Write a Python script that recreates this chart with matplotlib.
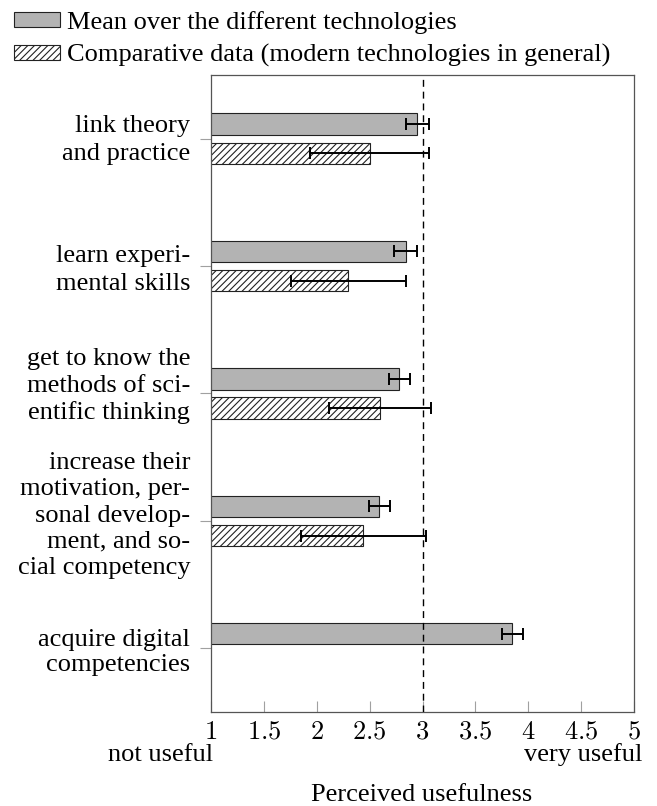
import numpy as np
import matplotlib
matplotlib.use('Agg')
import matplotlib.pyplot as plt
from matplotlib.patches import Patch
import matplotlib.transforms as mtransforms

# =====================================
# DATA
# =====================================

goals = [
    'link theory\nand practice',
    'learn experi-\nmental skills',
    'get to know the\nmethods of sci-\nentific thinking',
    'increase their\nmotivation, per-\nsonal develop-\nment, and so-\ncial competency',
    'acquire digital\ncompetencies',
]
mean_tech = [2.95, 2.84, 2.78, 2.59, 3.85]
mean_tech_err = [0.11, 0.11, 0.10, 0.10, 0.10]
comparative = [2.50, 2.30, 2.60, 2.44, np.nan]
comparative_err = [0.56, 0.54, 0.48, 0.59, np.nan]

x_ticks = [1, 1.5, 2, 2.5, 3, 3.5, 4, 4.5, 5]
x_tick_labels = ['1', '1.5', '2', '2.5', '3', '3.5', '4', '4.5', '5']

legend_labels = ['Mean over the different technologies',
                 'Comparative data (modern technologies in general)']

# =====================================
# STYLE
# =====================================

plt.rcParams['font.family'] = ['Liberation Serif', 'DejaVu Serif']
plt.rcParams['mathtext.fontset'] = 'cm'
plt.rcParams['hatch.linewidth'] = 0.8

gray = '#b3b3b3'
tick_gray = '#a0a0a0'
fs = 19

fig = plt.figure(figsize=(6.57, 8.06), dpi=100)
ax = fig.add_axes([211 / 657, 1 - 712 / 806, 423 / 657, 637 / 806])

y = np.arange(len(goals))
h = 0.168
off = 0.115

ax.barh(y - off, mean_tech, height=h, left=0, color=gray,
        edgecolor='#222222', linewidth=0.8, zorder=2)
ax.errorbar(mean_tech, y - off, xerr=mean_tech_err, fmt='none',
            ecolor='black', elinewidth=1.4, capsize=4, capthick=1.4, zorder=4)

ax.barh(y + off, comparative, height=h, left=0, color='white', hatch='/////',
        edgecolor='#222222', linewidth=0.8, zorder=2)
ax.errorbar(comparative, y + off, xerr=comparative_err, fmt='none',
            ecolor='black', elinewidth=1.4, capsize=4, capthick=1.4, zorder=4)

ax.axvline(3, color='black', linestyle=(0, (5, 3.5)), linewidth=1.0, zorder=3)

ax.set_xlim(1, 5)
ax.set_ylim(len(goals) - 0.5, -0.5)

ax.set_xticks(x_ticks)
ax.set_xticklabels(['$' + t + '$' for t in x_tick_labels], fontsize=fs)
ax.tick_params(axis='x', direction='in', length=8, color=tick_gray, width=0.8, pad=7)

ax.set_yticks(y)
ax.set_yticklabels(goals, fontsize=fs, multialignment='right')
ax.tick_params(axis='y', direction='out', length=8, color=tick_gray, width=0.8, pad=7)

# small vertical nudges so the wrapped labels sit like in the original
spacings = [1.36, 1.36, 1.25, 1.25, 1.2]
shifts = [4, 2, 12, 10, 0]
for lab, ls, dy in zip(ax.get_yticklabels(), spacings, shifts):
    lab.set_linespacing(ls)
    lab.set_transform(lab.get_transform() +
                      mtransforms.ScaledTranslation(0, dy / 100, fig.dpi_scale_trans))

for s in ax.spines.values():
    s.set_color('#555555')
    s.set_linewidth(0.9)

trans = mtransforms.blended_transform_factory(ax.transData, fig.transFigure)
ax.text(1.02, 1 - 755 / 806, 'not useful', transform=trans, ha='right',
        va='center', fontsize=fs)
ax.text(5.08, 1 - 755 / 806, 'very useful', transform=trans, ha='right',
        va='center', fontsize=fs)
fig.text(422 / 657, 1 - 795 / 806, 'Perceived usefulness', ha='center',
         va='center', fontsize=fs)

handles = [Patch(facecolor=gray, edgecolor='#222222', linewidth=0.8),
           Patch(facecolor='white', hatch='/////', edgecolor='#222222', linewidth=0.8)]
fig.legend(handles, legend_labels, loc='upper left', bbox_to_anchor=(0.005, 1.0),
           frameon=False, fontsize=fs, handlelength=1.75, handleheight=0.5,
           handletextpad=0.27, labelspacing=0.4, borderaxespad=0.2,
           borderpad=0.2)

fig.savefig('out.png', dpi=100)
